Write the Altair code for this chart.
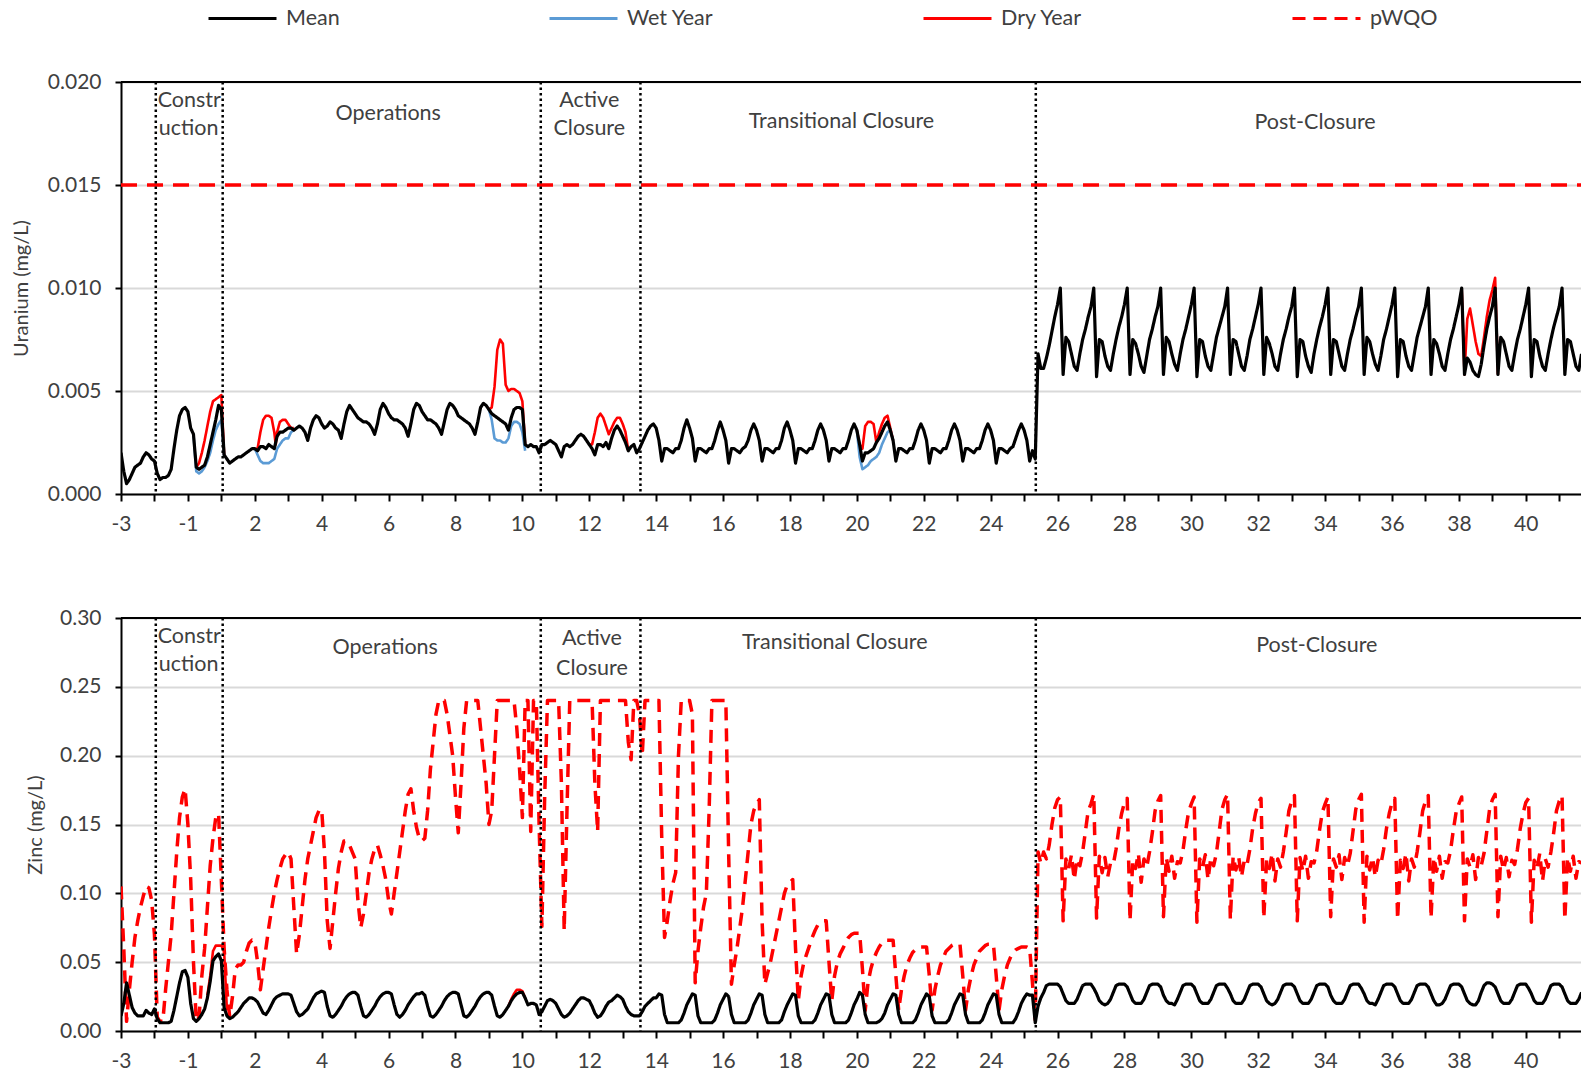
import json
import altair as alt
import pandas as pd

FONT = "Lato"
TEXT = "#404040"

# ---------------- axis categories ----------------
year_labels = ["-3", "-2", "-1"] + [str(y) for y in range(1, 42)]  # one per tick position 0..43
x_max = 43.65
phase_bounds = [1.04, 3.04, 12.55, 15.53, 27.35]

phase_text = ["Constr", "uction", "Operations", "Active", "Closure", "Transitional Closure", "Post-Closure"]
phase_x_top = [2.04, 2.02, 7.99, 14.0, 14.0, 21.54, 35.7]
phase_y_top = [0.01907, 0.01771, 0.01845, 0.01907, 0.01771, 0.01805, 0.01800]
phase_x_bottom = [2.04, 2.02, 7.9, 14.08, 14.08, 21.34, 35.75]
phase_y_bottom = [0.2862, 0.2655, 0.2785, 0.2845, 0.2633, 0.2822, 0.2793]

series_names = ["Mean", "Wet Year", "Dry Year", "pWQO"]
series_colors = ["#000000", "#5B9BD5", "#FF0000", "#FF0000"]
series_dash = [[1, 0], [1, 0], [1, 0], [13, 8]]

# ---------------- Uranium (mg/L), monthly values per year position ----------------
uranium_mean = [
    [0.0020, 0.0011, 0.0005, 0.0007, 0.0010, 0.0013, 0.0014, 0.0015, 0.0018, 0.0020, 0.0019, 0.0017],
    [0.0016, 0.0010, 0.0007, 0.0008, 0.0008, 0.0009, 0.0012, 0.0022, 0.0031, 0.0038, 0.0041, 0.0042],
    [0.0040, 0.0032, 0.0029, 0.0013, 0.0012, 0.0013, 0.0014, 0.0018, 0.0024, 0.0030, 0.0036, 0.0043],
    [0.0041, 0.0019, 0.0017, 0.0015, 0.0016, 0.0017, 0.0018, 0.0018, 0.0019, 0.0020, 0.0021, 0.0022],
    [0.0022, 0.0021, 0.0023, 0.0023, 0.0022, 0.0024, 0.0023, 0.0022, 0.0028, 0.0030, 0.0030, 0.0031],
    [0.0032, 0.0032, 0.0031, 0.0032, 0.0033, 0.0032, 0.0030, 0.0026, 0.0032, 0.0036, 0.0038, 0.0037],
    [0.0034, 0.0032, 0.0033, 0.0035, 0.0034, 0.0032, 0.0031, 0.0027, 0.0034, 0.0040, 0.0043, 0.0041],
    [0.0039, 0.0037, 0.0036, 0.0035, 0.0035, 0.0034, 0.0032, 0.0029, 0.0034, 0.0041, 0.0044, 0.0042],
    [0.0039, 0.0037, 0.0036, 0.0036, 0.0035, 0.0034, 0.0032, 0.0028, 0.0034, 0.0041, 0.0044, 0.0043],
    [0.0040, 0.0038, 0.0036, 0.0036, 0.0035, 0.0034, 0.0032, 0.0029, 0.0035, 0.0041, 0.0044, 0.0043],
    [0.0041, 0.0038, 0.0037, 0.0036, 0.0035, 0.0034, 0.0032, 0.0029, 0.0035, 0.0042, 0.0044, 0.0043],
    [0.0041, 0.0039, 0.0038, 0.0037, 0.0036, 0.0035, 0.0034, 0.0031, 0.0037, 0.0041, 0.0042, 0.0042],
    [0.0041, 0.0024, 0.0023, 0.0024, 0.0023, 0.0023, 0.0020, 0.0024, 0.0024, 0.0025, 0.0026, 0.0025],
    [0.0024, 0.0021, 0.0018, 0.0023, 0.0024, 0.0023, 0.0024, 0.0026, 0.0028, 0.0029, 0.0028, 0.0026],
    [0.0024, 0.0022, 0.0019, 0.0024, 0.0024, 0.0023, 0.0025, 0.0022, 0.0027, 0.0031, 0.0033, 0.0031],
    [0.0028, 0.0025, 0.0021, 0.0023, 0.0024, 0.0020, 0.0022, 0.0025, 0.0028, 0.0031, 0.0033, 0.0034],
    [0.0032, 0.0026, 0.0016, 0.0022, 0.0022, 0.0021, 0.0020, 0.0022, 0.0022, 0.0026, 0.0032, 0.0036],
    [0.0032, 0.0027, 0.0016, 0.0022, 0.0022, 0.0021, 0.0020, 0.0022, 0.0022, 0.0026, 0.0031, 0.0035],
    [0.0031, 0.0026, 0.0015, 0.0022, 0.0022, 0.0021, 0.0020, 0.0022, 0.0023, 0.0026, 0.0031, 0.0034],
    [0.0031, 0.0026, 0.0016, 0.0022, 0.0022, 0.0021, 0.0020, 0.0022, 0.0022, 0.0026, 0.0032, 0.0035],
    [0.0031, 0.0026, 0.0015, 0.0022, 0.0022, 0.0021, 0.0020, 0.0022, 0.0022, 0.0026, 0.0031, 0.0034],
    [0.0031, 0.0026, 0.0016, 0.0022, 0.0022, 0.0021, 0.0020, 0.0022, 0.0022, 0.0026, 0.0031, 0.0034],
    [0.0031, 0.0024, 0.0016, 0.0020, 0.0020, 0.0021, 0.0022, 0.0025, 0.0027, 0.0030, 0.0033, 0.0035],
    [0.0031, 0.0026, 0.0016, 0.0022, 0.0022, 0.0021, 0.0020, 0.0022, 0.0022, 0.0026, 0.0031, 0.0034],
    [0.0031, 0.0026, 0.0015, 0.0022, 0.0022, 0.0021, 0.0020, 0.0022, 0.0022, 0.0026, 0.0031, 0.0034],
    [0.0031, 0.0026, 0.0016, 0.0022, 0.0022, 0.0021, 0.0020, 0.0022, 0.0022, 0.0026, 0.0031, 0.0034],
    [0.0031, 0.0026, 0.0015, 0.0022, 0.0022, 0.0021, 0.0020, 0.0022, 0.0023, 0.0027, 0.0031, 0.0034],
    [0.0031, 0.0026, 0.0016, 0.0021, 0.0017, 0.0068, 0.0061, 0.0061, 0.0066, 0.0072, 0.0079, 0.0086],
    [0.0092, 0.0100, 0.0058, 0.0076, 0.0074, 0.0068, 0.0062, 0.0060, 0.0068, 0.0075, 0.0080, 0.0086],
    [0.0091, 0.0100, 0.0057, 0.0075, 0.0074, 0.0067, 0.0062, 0.0060, 0.0068, 0.0075, 0.0081, 0.0086],
    [0.0092, 0.0100, 0.0058, 0.0075, 0.0073, 0.0068, 0.0062, 0.0059, 0.0067, 0.0075, 0.0080, 0.0086],
    [0.0091, 0.0100, 0.0058, 0.0076, 0.0074, 0.0068, 0.0063, 0.0060, 0.0068, 0.0075, 0.0080, 0.0086],
    [0.0092, 0.0100, 0.0057, 0.0075, 0.0074, 0.0067, 0.0062, 0.0060, 0.0068, 0.0076, 0.0081, 0.0086],
    [0.0091, 0.0100, 0.0058, 0.0075, 0.0074, 0.0068, 0.0062, 0.0060, 0.0067, 0.0075, 0.0080, 0.0086],
    [0.0092, 0.0100, 0.0058, 0.0076, 0.0073, 0.0068, 0.0062, 0.0060, 0.0068, 0.0075, 0.0080, 0.0086],
    [0.0091, 0.0100, 0.0057, 0.0075, 0.0074, 0.0067, 0.0062, 0.0059, 0.0068, 0.0075, 0.0081, 0.0086],
    [0.0092, 0.0100, 0.0058, 0.0075, 0.0074, 0.0068, 0.0062, 0.0060, 0.0068, 0.0075, 0.0080, 0.0086],
    [0.0091, 0.0100, 0.0058, 0.0076, 0.0074, 0.0068, 0.0063, 0.0060, 0.0067, 0.0075, 0.0080, 0.0086],
    [0.0092, 0.0100, 0.0057, 0.0075, 0.0074, 0.0067, 0.0062, 0.0060, 0.0068, 0.0076, 0.0081, 0.0086],
    [0.0091, 0.0100, 0.0058, 0.0075, 0.0073, 0.0068, 0.0062, 0.0060, 0.0068, 0.0075, 0.0080, 0.0086],
    [0.0092, 0.0100, 0.0058, 0.0066, 0.0064, 0.0060, 0.0058, 0.0057, 0.0063, 0.0072, 0.0080, 0.0086],
    [0.0091, 0.0100, 0.0058, 0.0076, 0.0074, 0.0068, 0.0062, 0.0060, 0.0068, 0.0075, 0.0080, 0.0086],
    [0.0092, 0.0100, 0.0057, 0.0075, 0.0074, 0.0067, 0.0062, 0.0060, 0.0068, 0.0075, 0.0081, 0.0086],
    [0.0091, 0.0100, 0.0058, 0.0075, 0.0074, 0.0068, 0.0062, 0.0060, 0.0068],
]

uranium_dry_segments = [
    ([2.25, 2.333, 2.417, 2.5, 2.583, 2.667, 2.75, 2.833, 2.917, 3.0, 3.083],
     [0.0013, 0.0015, 0.0020, 0.0026, 0.0033, 0.0040, 0.0045, 0.0046, 0.0047, 0.0048, 0.0019]),
    ([4.0, 4.083, 4.167, 4.25, 4.333, 4.417, 4.5, 4.583, 4.625, 4.667, 4.75, 4.833, 4.917, 5.0, 5.083, 5.167],
     [0.0022, 0.0022, 0.0030, 0.0036, 0.0038, 0.0038, 0.0037, 0.0030, 0.0024, 0.0030, 0.0035, 0.0036, 0.0036, 0.0034, 0.0032, 0.0032]),
    ([11.0, 11.083, 11.167, 11.25, 11.333, 11.417, 11.5, 11.583, 11.667, 11.75, 11.833, 11.917, 12.0, 12.083],
     [0.0041, 0.0042, 0.0052, 0.0070, 0.0075, 0.0073, 0.0053, 0.0050, 0.0051, 0.0051, 0.0050, 0.0049, 0.0045, 0.0024]),
    ([14.0, 14.083, 14.167, 14.25, 14.333, 14.417, 14.5, 14.583, 14.667, 14.75, 14.833, 14.917, 15.0, 15.083, 15.167],
     [0.0024, 0.0024, 0.0030, 0.0037, 0.0039, 0.0037, 0.0033, 0.0029, 0.0032, 0.0035, 0.0037, 0.0037, 0.0034, 0.0030, 0.0021]),
    ([22.0, 22.083, 22.167, 22.25, 22.333, 22.417, 22.5, 22.583, 22.667, 22.75, 22.833, 22.917, 23.0, 23.083],
     [0.0031, 0.0024, 0.0022, 0.0033, 0.0035, 0.0035, 0.0034, 0.0025, 0.0030, 0.0034, 0.0037, 0.0038, 0.0032, 0.0026]),
    ([40.083, 40.167, 40.25, 40.333, 40.417, 40.5, 40.583, 40.667, 40.75, 40.833, 40.917, 41.0, 41.083, 41.167],
     [0.0100, 0.0058, 0.0085, 0.0090, 0.0082, 0.0074, 0.0068, 0.0067, 0.0076, 0.0086, 0.0094, 0.0099, 0.0105, 0.0058]),
]

uranium_wet_segments = [
    ([2.167, 2.25, 2.333, 2.417, 2.5, 2.583, 2.667, 2.75, 2.833, 2.917, 3.0, 3.083],
     [0.0029, 0.0011, 0.0010, 0.0011, 0.0013, 0.0016, 0.0020, 0.0026, 0.0031, 0.0034, 0.0036, 0.0018]),
    ([4.0, 4.083, 4.167, 4.25, 4.333, 4.417, 4.5, 4.583, 4.667, 4.75, 4.833, 4.917, 5.0, 5.083, 5.167],
     [0.0022, 0.0019, 0.0016, 0.0015, 0.0015, 0.0015, 0.0016, 0.0017, 0.0022, 0.0024, 0.0026, 0.0027, 0.0027, 0.0030, 0.0031]),
    ([11.0, 11.083, 11.167, 11.25, 11.333, 11.417, 11.5, 11.583, 11.667, 11.75, 11.833, 11.917, 12.0, 12.083],
     [0.0041, 0.0036, 0.0027, 0.0026, 0.0026, 0.0025, 0.0025, 0.0027, 0.0033, 0.0035, 0.0035, 0.0034, 0.0030, 0.0021]),
    ([22.0, 22.083, 22.167, 22.25, 22.333, 22.417, 22.5, 22.583, 22.667, 22.75, 22.833, 22.917, 23.0, 23.083],
     [0.0031, 0.0018, 0.0012, 0.0013, 0.0014, 0.0016, 0.0017, 0.0018, 0.0020, 0.0024, 0.0027, 0.0030, 0.0031, 0.0026]),
]

uranium_pwqo = 0.015

# ---------------- Zinc (mg/L), monthly values per year position ----------------
zinc_mean = [
    [0.011, 0.020, 0.035, 0.026, 0.017, 0.013, 0.011, 0.011, 0.011, 0.015, 0.013, 0.012],
    [0.016, 0.009, 0.006, 0.006, 0.006, 0.006, 0.007, 0.015, 0.025, 0.035, 0.043, 0.044],
    [0.039, 0.020, 0.009, 0.007, 0.009, 0.012, 0.016, 0.024, 0.036, 0.051, 0.054, 0.056],
    [0.051, 0.017, 0.011, 0.009, 0.010, 0.012, 0.014, 0.017, 0.020, 0.022, 0.024, 0.024],
    [0.023, 0.021, 0.017, 0.013, 0.012, 0.015, 0.019, 0.023, 0.025, 0.026, 0.027, 0.027],
    [0.027, 0.026, 0.020, 0.014, 0.011, 0.012, 0.014, 0.016, 0.020, 0.024, 0.027, 0.028],
    [0.029, 0.028, 0.018, 0.011, 0.010, 0.012, 0.015, 0.018, 0.022, 0.025, 0.027, 0.028],
    [0.028, 0.026, 0.018, 0.011, 0.010, 0.012, 0.015, 0.018, 0.022, 0.025, 0.027, 0.028],
    [0.028, 0.027, 0.019, 0.012, 0.010, 0.012, 0.015, 0.019, 0.022, 0.025, 0.027, 0.027],
    [0.028, 0.026, 0.018, 0.011, 0.010, 0.012, 0.015, 0.018, 0.022, 0.025, 0.027, 0.028],
    [0.028, 0.027, 0.019, 0.011, 0.010, 0.012, 0.015, 0.018, 0.022, 0.025, 0.027, 0.028],
    [0.028, 0.026, 0.018, 0.011, 0.010, 0.012, 0.015, 0.018, 0.022, 0.025, 0.027, 0.028],
    [0.028, 0.024, 0.019, 0.020, 0.020, 0.019, 0.012, 0.014, 0.018, 0.022, 0.023, 0.022],
    [0.020, 0.016, 0.012, 0.010, 0.011, 0.013, 0.016, 0.019, 0.022, 0.024, 0.024, 0.023],
    [0.022, 0.018, 0.013, 0.010, 0.011, 0.014, 0.018, 0.021, 0.022, 0.024, 0.026, 0.025],
    [0.023, 0.018, 0.014, 0.012, 0.011, 0.011, 0.011, 0.014, 0.018, 0.020, 0.022, 0.024],
    [0.024, 0.027, 0.026, 0.012, 0.006, 0.006, 0.006, 0.006, 0.006, 0.008, 0.013, 0.019],
    [0.023, 0.027, 0.026, 0.011, 0.006, 0.006, 0.006, 0.006, 0.006, 0.008, 0.013, 0.019],
    [0.023, 0.027, 0.025, 0.012, 0.006, 0.006, 0.006, 0.006, 0.006, 0.008, 0.013, 0.019],
    [0.023, 0.027, 0.026, 0.012, 0.006, 0.006, 0.006, 0.006, 0.006, 0.008, 0.014, 0.019],
    [0.023, 0.027, 0.026, 0.011, 0.006, 0.006, 0.006, 0.006, 0.006, 0.008, 0.013, 0.019],
    [0.023, 0.027, 0.026, 0.012, 0.006, 0.006, 0.006, 0.006, 0.006, 0.008, 0.013, 0.019],
    [0.023, 0.028, 0.026, 0.012, 0.006, 0.006, 0.006, 0.006, 0.007, 0.009, 0.013, 0.019],
    [0.023, 0.027, 0.026, 0.012, 0.006, 0.006, 0.006, 0.006, 0.006, 0.008, 0.013, 0.019],
    [0.023, 0.027, 0.025, 0.011, 0.006, 0.006, 0.006, 0.006, 0.006, 0.008, 0.013, 0.019],
    [0.023, 0.027, 0.026, 0.012, 0.006, 0.006, 0.006, 0.006, 0.006, 0.008, 0.013, 0.019],
    [0.023, 0.027, 0.026, 0.012, 0.006, 0.006, 0.006, 0.006, 0.006, 0.009, 0.014, 0.020],
    [0.024, 0.027, 0.026, 0.026, 0.006, 0.018, 0.024, 0.028, 0.033, 0.034, 0.034, 0.034],
    [0.034, 0.032, 0.027, 0.022, 0.020, 0.020, 0.020, 0.023, 0.028, 0.033, 0.034, 0.034],
    [0.034, 0.031, 0.027, 0.022, 0.020, 0.019, 0.020, 0.023, 0.028, 0.033, 0.034, 0.034],
    [0.034, 0.032, 0.027, 0.022, 0.020, 0.020, 0.020, 0.023, 0.028, 0.033, 0.034, 0.034],
    [0.034, 0.032, 0.026, 0.022, 0.020, 0.020, 0.019, 0.023, 0.028, 0.033, 0.034, 0.034],
    [0.034, 0.032, 0.027, 0.022, 0.020, 0.020, 0.020, 0.023, 0.028, 0.033, 0.034, 0.034],
    [0.034, 0.031, 0.027, 0.022, 0.020, 0.020, 0.020, 0.023, 0.028, 0.033, 0.034, 0.034],
    [0.034, 0.032, 0.027, 0.022, 0.020, 0.019, 0.020, 0.023, 0.028, 0.033, 0.034, 0.034],
    [0.034, 0.032, 0.027, 0.022, 0.020, 0.020, 0.020, 0.023, 0.028, 0.033, 0.034, 0.034],
    [0.034, 0.032, 0.026, 0.022, 0.020, 0.020, 0.020, 0.023, 0.028, 0.033, 0.034, 0.034],
    [0.034, 0.031, 0.027, 0.022, 0.020, 0.020, 0.019, 0.023, 0.028, 0.033, 0.034, 0.034],
    [0.034, 0.032, 0.027, 0.022, 0.020, 0.020, 0.020, 0.023, 0.028, 0.033, 0.034, 0.034],
    [0.034, 0.032, 0.027, 0.022, 0.019, 0.019, 0.020, 0.023, 0.028, 0.033, 0.034, 0.034],
    [0.034, 0.032, 0.027, 0.022, 0.020, 0.019, 0.019, 0.022, 0.028, 0.033, 0.035, 0.035],
    [0.034, 0.032, 0.027, 0.022, 0.020, 0.020, 0.020, 0.023, 0.028, 0.033, 0.034, 0.034],
    [0.034, 0.031, 0.027, 0.022, 0.020, 0.020, 0.020, 0.023, 0.028, 0.033, 0.034, 0.034],
    [0.034, 0.032, 0.027, 0.022, 0.020, 0.020, 0.020, 0.023, 0.028],
]

zinc_pwqo = [
    [0.105, 0.060, 0.007, 0.030, 0.050, 0.068, 0.080, 0.090, 0.098, 0.105, 0.104, 0.095],
    [0.070, 0.010, 0.007, 0.007, 0.030, 0.050, 0.070, 0.100, 0.130, 0.155, 0.170, 0.176],
    [0.150, 0.110, 0.050, 0.007, 0.010, 0.040, 0.060, 0.090, 0.120, 0.140, 0.155, 0.158],
    [0.110, 0.060, 0.030, 0.010, 0.025, 0.045, 0.048, 0.048, 0.050, 0.058, 0.064, 0.066],
    [0.065, 0.050, 0.030, 0.045, 0.060, 0.075, 0.088, 0.100, 0.110, 0.118, 0.125, 0.128],
    [0.130, 0.125, 0.090, 0.056, 0.070, 0.090, 0.110, 0.125, 0.135, 0.145, 0.155, 0.160],
    [0.161, 0.130, 0.080, 0.060, 0.080, 0.100, 0.118, 0.130, 0.138, 0.138, 0.135, 0.130],
    [0.125, 0.095, 0.075, 0.085, 0.100, 0.115, 0.125, 0.132, 0.135, 0.128, 0.120, 0.110],
    [0.095, 0.085, 0.100, 0.115, 0.130, 0.145, 0.160, 0.172, 0.176, 0.160, 0.148, 0.140],
    [0.138, 0.140, 0.160, 0.190, 0.210, 0.230, 0.240, 0.240, 0.240, 0.230, 0.215, 0.200],
    [0.170, 0.144, 0.180, 0.220, 0.240, 0.240, 0.240, 0.240, 0.240, 0.220, 0.200, 0.180],
    [0.150, 0.160, 0.200, 0.240, 0.240, 0.240, 0.240, 0.240, 0.240, 0.240, 0.220, 0.190],
    [0.155, 0.240, 0.240, 0.145, 0.240, 0.240, 0.150, 0.076, 0.170, 0.240, 0.240, 0.240],
    [0.240, 0.240, 0.180, 0.073, 0.160, 0.240, 0.240, 0.240, 0.240, 0.240, 0.240, 0.240],
    [0.240, 0.240, 0.180, 0.145, 0.240, 0.240, 0.240, 0.240, 0.240, 0.240, 0.240, 0.240],
    [0.240, 0.240, 0.210, 0.197, 0.240, 0.240, 0.230, 0.200, 0.240, 0.240, 0.240, 0.240],
    [0.240, 0.240, 0.140, 0.068, 0.080, 0.095, 0.107, 0.115, 0.200, 0.240, 0.240, 0.240],
    [0.240, 0.230, 0.035, 0.058, 0.075, 0.090, 0.100, 0.160, 0.240, 0.240, 0.240, 0.240],
    [0.240, 0.240, 0.130, 0.034, 0.048, 0.060, 0.075, 0.090, 0.110, 0.130, 0.150, 0.160],
    [0.165, 0.168, 0.080, 0.034, 0.042, 0.050, 0.060, 0.070, 0.080, 0.090, 0.100, 0.106],
    [0.108, 0.110, 0.060, 0.022, 0.040, 0.050, 0.056, 0.062, 0.068, 0.073, 0.077, 0.079],
    [0.080, 0.080, 0.050, 0.022, 0.040, 0.050, 0.056, 0.060, 0.064, 0.068, 0.070, 0.071],
    [0.071, 0.071, 0.045, 0.015, 0.035, 0.045, 0.052, 0.057, 0.061, 0.064, 0.066, 0.066],
    [0.066, 0.066, 0.040, 0.015, 0.030, 0.040, 0.048, 0.053, 0.057, 0.059, 0.061, 0.061],
    [0.061, 0.061, 0.040, 0.015, 0.030, 0.040, 0.048, 0.053, 0.058, 0.060, 0.062, 0.063],
    [0.063, 0.063, 0.040, 0.015, 0.030, 0.040, 0.048, 0.053, 0.058, 0.060, 0.062, 0.063],
    [0.063, 0.063, 0.040, 0.015, 0.030, 0.040, 0.048, 0.053, 0.057, 0.059, 0.060, 0.061],
    [0.061, 0.061, 0.060, 0.035, 0.008, 0.130, 0.122, 0.130, 0.125, 0.135, 0.150, 0.162],
    [0.168, 0.170, 0.080, 0.125, 0.118, 0.128, 0.110, 0.125, 0.120, 0.130, 0.145, 0.160],
    [0.165, 0.172, 0.082, 0.127, 0.115, 0.126, 0.112, 0.122, 0.121, 0.132, 0.147, 0.158],
    [0.166, 0.169, 0.080, 0.124, 0.118, 0.129, 0.108, 0.125, 0.119, 0.130, 0.144, 0.160],
    [0.167, 0.171, 0.083, 0.126, 0.116, 0.127, 0.111, 0.123, 0.122, 0.131, 0.146, 0.159],
    [0.165, 0.170, 0.079, 0.125, 0.119, 0.128, 0.110, 0.126, 0.120, 0.129, 0.145, 0.161],
    [0.168, 0.172, 0.081, 0.127, 0.117, 0.126, 0.112, 0.124, 0.121, 0.132, 0.147, 0.158],
    [0.166, 0.169, 0.082, 0.124, 0.118, 0.129, 0.109, 0.125, 0.119, 0.130, 0.144, 0.160],
    [0.167, 0.171, 0.080, 0.126, 0.116, 0.127, 0.111, 0.123, 0.122, 0.131, 0.146, 0.159],
    [0.165, 0.170, 0.083, 0.125, 0.119, 0.128, 0.110, 0.126, 0.120, 0.129, 0.145, 0.161],
    [0.168, 0.172, 0.079, 0.127, 0.117, 0.126, 0.112, 0.124, 0.121, 0.132, 0.147, 0.158],
    [0.166, 0.169, 0.081, 0.124, 0.118, 0.129, 0.109, 0.125, 0.119, 0.130, 0.144, 0.160],
    [0.167, 0.171, 0.082, 0.126, 0.116, 0.127, 0.111, 0.123, 0.122, 0.131, 0.146, 0.159],
    [0.165, 0.170, 0.080, 0.125, 0.119, 0.128, 0.110, 0.126, 0.120, 0.129, 0.145, 0.161],
    [0.168, 0.172, 0.083, 0.127, 0.117, 0.126, 0.112, 0.124, 0.121, 0.132, 0.147, 0.158],
    [0.166, 0.169, 0.079, 0.124, 0.118, 0.129, 0.109, 0.125, 0.119, 0.130, 0.144, 0.160],
    [0.167, 0.171, 0.081, 0.126, 0.116, 0.127, 0.111, 0.123, 0.122],
]

zinc_dry_segments = [
    ([2.583, 2.667, 2.75, 2.833, 2.917, 3.0, 3.083, 3.167],
     [0.026, 0.040, 0.058, 0.062, 0.062, 0.062, 0.058, 0.015]),
    ([11.583, 11.667, 11.75, 11.833, 11.917, 12.0, 12.083],
     [0.018, 0.023, 0.027, 0.030, 0.030, 0.029, 0.024]),
]


# ---------------- build tables ----------------
def monthly_rows(rows, series):
    out = []
    for i, row in enumerate(rows):
        for m, v in enumerate(row):
            out.append({"x": round(i + m / 12, 4), "v": v, "series": series, "seg": series})
    return out


def segment_rows(segments, series):
    out = []
    for k, (xs, vs) in enumerate(segments):
        for x, v in zip(xs, vs):
            out.append({"x": x, "v": v, "series": series, "seg": f"{series}{k}"})
    return out


u_rows = (monthly_rows(uranium_mean, "Mean")
          + segment_rows(uranium_dry_segments, "Dry Year")
          + segment_rows(uranium_wet_segments, "Wet Year")
          + segment_rows([([0, x_max], [uranium_pwqo, uranium_pwqo])], "pWQO"))
z_rows = (monthly_rows(zinc_mean, "Mean")
          + monthly_rows(zinc_pwqo, "pWQO")
          + segment_rows(zinc_dry_segments, "Dry Year"))
u_df = pd.DataFrame(u_rows)
z_df = pd.DataFrame(z_rows)

tick_text = [lab if i % 2 == 0 else "" for i, lab in enumerate(year_labels)]
label_expr = json.dumps(tick_text) + "[datum.value]"

legend = alt.Legend(
    title=None, orient="none", legendX=86, legendY=-99, direction="horizontal",
    symbolType="stroke", symbolSize=4624, symbolStrokeWidth=3,
    labelFont=FONT, labelFontSize=21.5, labelColor=TEXT, labelOffset=8,
    columnPadding=203, gridAlign="each",
)
color = alt.Color("series:N", scale=alt.Scale(domain=series_names, range=series_colors), legend=legend)
dash = alt.StrokeDash("series:N", scale=alt.Scale(domain=series_names, range=series_dash), legend=legend)


def panel(df, ymax, ystep, yfmt, ytitle, title_x, height, lab_x, lab_y, pwqo_dash=None):
    n = int(round(ymax / ystep))
    yvals = [round(i * ystep, 4) for i in range(n + 1)]
    x = alt.X("x:Q", title=None,
              scale=alt.Scale(domain=[0, x_max], nice=False, zero=False),
              axis=alt.Axis(values=list(range(44)), labelExpr=label_expr, grid=False,
                            tickSize=7, labelPadding=12, labelOverlap=False, labelFlush=False))
    y = alt.Y("v:Q", title=ytitle,
              scale=alt.Scale(domain=[0, ymax], nice=False, zero=True),
              axis=alt.Axis(values=yvals, format=yfmt, grid=True, tickSize=6, labelPadding=14,
                            titleX=title_x, titleBaseline="middle"))
    base = alt.Chart(df)

    def line(name, width, dash_enc=dash):
        return base.transform_filter(alt.datum.series == name).mark_line(
            strokeWidth=width, clip=True, strokeJoin="round").encode(
            x=x, y=y, color=color, strokeDash=dash_enc, detail="seg:N", order="x:Q")

    pw_dash = alt.value(pwqo_dash) if pwqo_dash else dash
    layers = [line("pWQO", 3.5, pw_dash), line("Dry Year", 2.6), line("Wet Year", 2.6), line("Mean", 3.2)]
    rules = alt.Chart(pd.DataFrame({"x": phase_bounds})).mark_rule(
        color="black", strokeWidth=2.5, strokeDash=[2.5, 3]).encode(x=x)
    top = alt.Chart(pd.DataFrame({"v": [ymax]})).mark_rule(color="black", strokeWidth=2).encode(y=y)
    labels = alt.Chart(pd.DataFrame({"x": lab_x, "v": lab_y, "label": phase_text})).mark_text(
        font=FONT, fontSize=21.5, color=TEXT, baseline="middle", align="center").encode(
        x=x, y=y, text="label:N")
    return alt.layer(*layers, rules, top, labels).properties(width=1460, height=height)


top_chart = panel(u_df, 0.020, 0.005, ".3f", "Uranium (mg/L)", -100, 412, phase_x_top, phase_y_top,
                  pwqo_dash=[16, 10])
bottom_chart = panel(z_df, 0.30, 0.05, ".2f", "Zinc (mg/L)", -86, 413, phase_x_bottom, phase_y_bottom)

chart = alt.vconcat(top_chart, bottom_chart, spacing=124, bounds="flush").properties(
    padding={"left": 121, "top": 82, "right": 0, "bottom": 43},
    autosize=alt.AutoSizeParams(type="none"),
    background="white",
).configure_view(stroke=None).configure_axis(
    labelFont=FONT, labelFontSize=21, labelColor=TEXT,
    titleFont=FONT, titleFontSize=20, titleColor=TEXT, titleFontWeight="normal",
    domainColor="black", domainWidth=2, tickColor="black", tickWidth=2,
    gridColor="#d9d9d9", gridWidth=2,
)

chart.save("out.html", embed_options={"renderer": "svg", "actions": False,
                                      "width": 1460, "height": 949})
